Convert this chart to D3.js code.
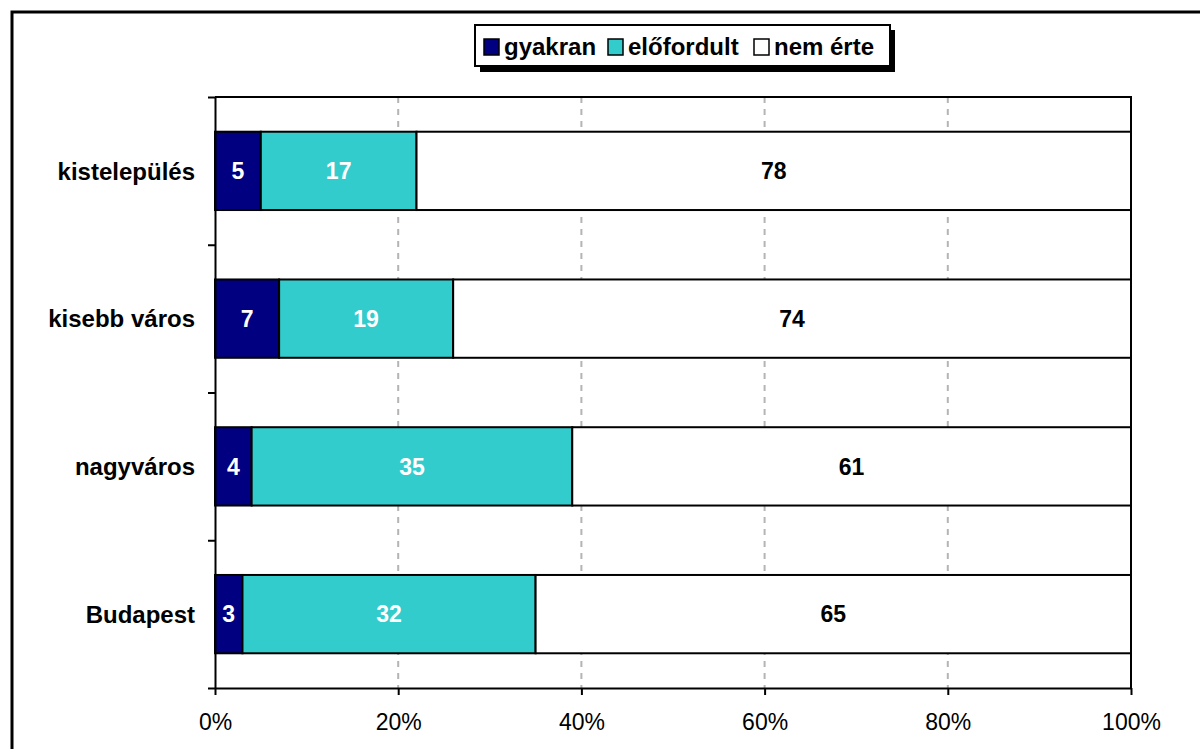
<!DOCTYPE html>
<html lang="hu">
<head>
<meta charset="UTF-8">
<title>Stacked bar</title>
<script src="https://d3js.org/d3.v7.min.js"></script>
<style>
  body { margin:0; background:#fff; }
  text { font-family: Arial, "Liberation Sans", sans-serif; }
</style>
</head>
<body>
<svg id="chart" width="1200" height="749"></svg>
<script>
// data
var categories = ["kistelepülés", "kisebb város", "nagyváros", "Budapest"];
var seriesNames = ["gyakran", "előfordult", "nem érte"];
var gyakran = [5, 7, 4, 3];
var elofordult = [17, 19, 35, 32];
var nemErte = [78, 74, 61, 65];
var xTicks = [0, 20, 40, 60, 80, 100];
var colors = ["#000080", "#33CCCC", "#FFFFFF"];
var labelColors = ["#fff", "#fff", "#000"];

var svg = d3.select("#chart");

// outer frame
svg.append("path")
  .attr("d", "M12,749 L12,12 L1200,12")
  .attr("fill", "none").attr("stroke", "#000").attr("stroke-width", 3);

var pLeft = 215, pRight = 1131, pTop = 97, pBottom = 688;

var x = d3.scaleLinear().domain([0, 100]).range([pLeft, pRight]);
var y = d3.scaleBand().domain(categories).range([pTop, pBottom]).paddingInner(0.47).paddingOuter(0.235);
var yEdge = d3.scaleLinear().domain([0, categories.length]).range([pTop, pBottom]);

var rows = categories.map(function(c, i) {
  return { cat: c, gyakran: gyakran[i], "előfordult": elofordult[i], "nem érte": nemErte[i] };
});
var stacked = d3.stack().keys(seriesNames)(rows);

// gridlines
svg.append("g").selectAll("line")
  .data(xTicks.slice(1, -1)).enter().append("line")
  .attr("x1", function(d){ return x(d); }).attr("x2", function(d){ return x(d); })
  .attr("y1", pTop).attr("y2", pBottom)
  .attr("stroke", "#b4b4b4").attr("stroke-width", 2).attr("stroke-dasharray", "6,6");

// plot right and top border
svg.append("path")
  .attr("d", "M" + pLeft + "," + pTop + " L" + pRight + "," + pTop + " L" + pRight + "," + pBottom)
  .attr("fill", "none").attr("stroke", "#000").attr("stroke-width", 2);

// bars
var layer = svg.append("g").selectAll("g")
  .data(stacked).enter().append("g")
  .attr("fill", function(d, i){ return colors[i]; });

layer.selectAll("rect")
  .data(function(d){ return d; }).enter().append("rect")
  .attr("x", function(d){ return x(d[0]); })
  .attr("y", function(d){ return y(d.data.cat); })
  .attr("width", function(d){ return x(d[1]) - x(d[0]); })
  .attr("height", y.bandwidth())
  .attr("stroke", "#000").attr("stroke-width", 2);

// value labels
stacked.forEach(function(s, si) {
  svg.append("g").selectAll("text")
    .data(s).enter().append("text")
    .attr("x", function(d){ return (x(d[0]) + x(d[1])) / 2; })
    .attr("y", function(d){ return y(d.data.cat) + y.bandwidth() / 2; })
    .attr("dy", "0.36em")
    .attr("text-anchor", "middle")
    .attr("font-size", "23px").attr("font-weight", "bold")
    .attr("fill", labelColors[si])
    .text(function(d){ return d[1] - d[0]; });
});

// x axis
var xAxis = svg.append("g")
  .attr("transform", "translate(0," + pBottom + ")")
  .call(d3.axisBottom(x).tickValues(xTicks).tickFormat(function(d){ return d + "%"; }).tickSize(7).tickPadding(19).tickSizeOuter(0));
xAxis.select(".domain").attr("stroke-width", 2);
xAxis.selectAll(".tick line").attr("stroke-width", 2);
xAxis.selectAll("text").attr("font-size", "23px").attr("fill", "#000").style("font-family", "Arial, 'Liberation Sans', sans-serif");

// y axis with ticks at category boundaries
var yAxis = svg.append("g")
  .attr("transform", "translate(" + pLeft + ",0)")
  .call(d3.axisLeft(yEdge).tickValues(d3.range(categories.length + 1)).tickFormat("").tickSize(7).tickSizeOuter(0));
yAxis.select(".domain").attr("stroke-width", 2);
yAxis.selectAll(".tick line").attr("stroke-width", 2);

svg.append("g").selectAll("text")
  .data(categories).enter().append("text")
  .attr("x", 195)
  .attr("y", function(d){ return y(d) + y.bandwidth() / 2; })
  .attr("dy", "0.36em")
  .attr("text-anchor", "end")
  .attr("font-size", "24px").attr("font-weight", "bold")
  .text(function(d){ return d; });

// legend
var lg = svg.append("g");
lg.append("rect").attr("x", 480).attr("y", 30).attr("width", 415).attr("height", 42).attr("fill", "#000");
lg.append("rect").attr("x", 475).attr("y", 25).attr("width", 415).attr("height", 41)
  .attr("fill", "#fff").attr("stroke", "#000").attr("stroke-width", 2);
var legendX = [484, 608, 754];
seriesNames.forEach(function(n, i) {
  lg.append("rect").attr("x", legendX[i]).attr("y", 39).attr("width", 15).attr("height", 16)
    .attr("fill", colors[i]).attr("stroke", "#000").attr("stroke-width", 1.5);
  lg.append("text").attr("x", legendX[i] + 20).attr("y", 46).attr("dy", "0.36em")
    .attr("font-size", "24px").attr("font-weight", "bold").text(n);
});
</script>
</body>
</html>
